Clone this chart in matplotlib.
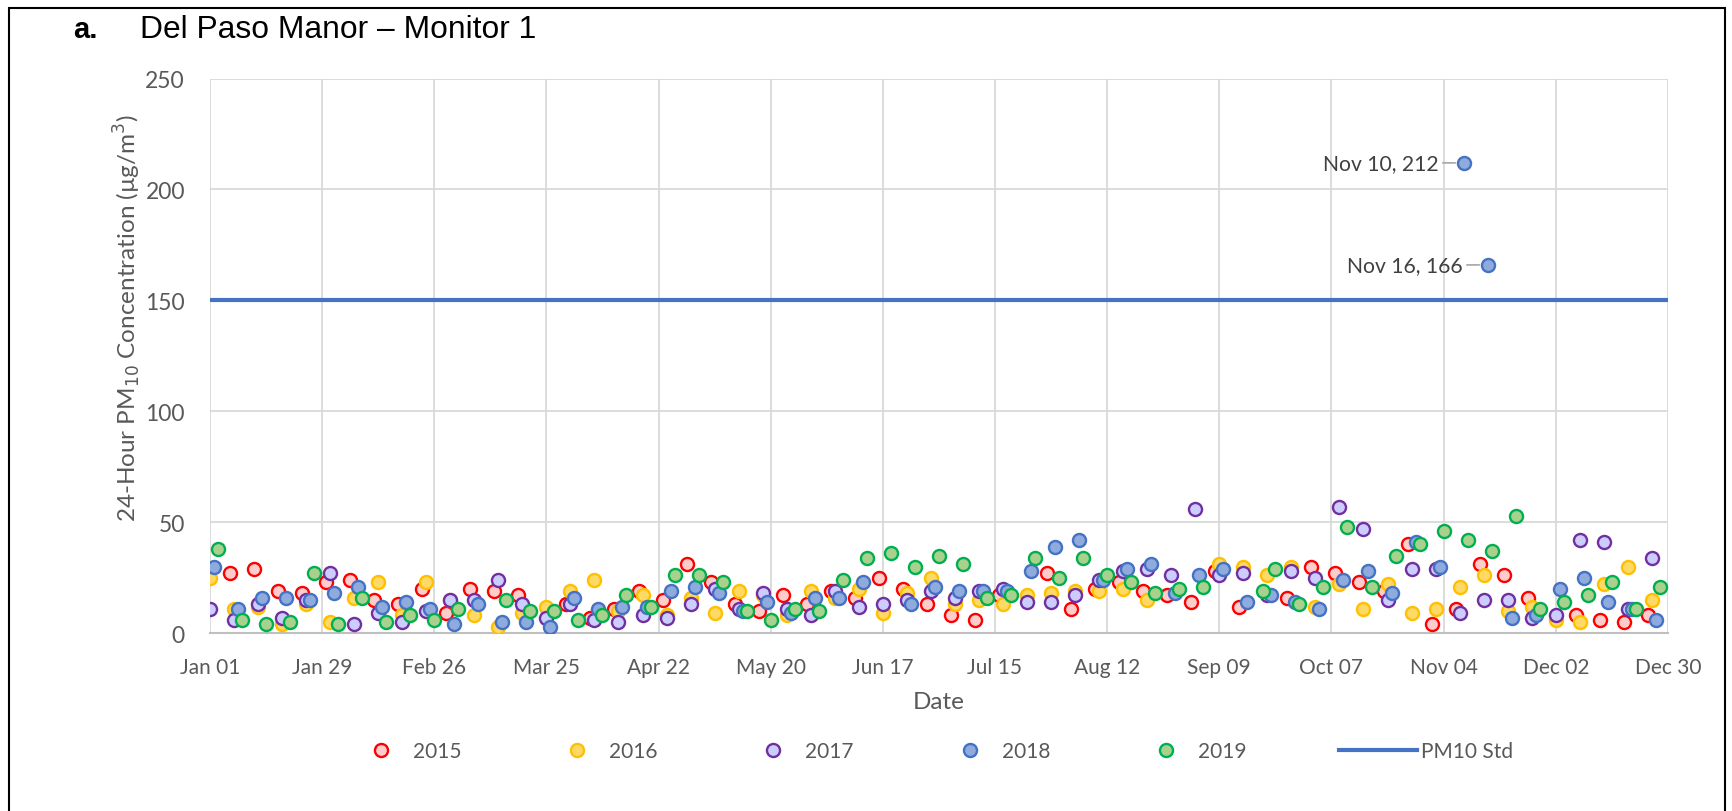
import numpy as np
import pandas as pd
import matplotlib.pyplot as plt
from matplotlib.lines import Line2D
from matplotlib.patches import Rectangle
from matplotlib.legend_handler import HandlerLine2D

plt.rcParams['font.family'] = ['Lato', 'DejaVu Sans']

nan = np.nan

# 1-in-6 day sampling schedule, first sample of each year
years = [2015, 2016, 2017, 2018, 2019]
first_sample = ['2015-01-06', '2016-01-01', '2017-01-01', '2018-01-02', '2019-01-03']

pm_2015 = [27, 29, 19, 18, 23, 24, 15, 13, 20, 9,
           20, 19, 17, nan, 13, 7, 11, 19, 15, 31,
           23, 13, 10, 17, 13, 19, 16, 25, 20, 13,
           8, 6, 17, nan, 27, 11, 20, 23, 19, 17,
           14, 28, 12, nan, 16, 30, 27, 23, 19, 40,
           4, 11, 31, 26, 16, nan, 8, 6, 5, 8]
pm_2016 = [25, 11, 12, 4, 13, 5, 16, 23, 8, 23,
           15, 8, 3, 9, 12, 19, 24, 10, 17, 8,
           16, 9, 19, 17, 8, 19, 16, 20, 9, 18,
           25, 13, 15, 13, 17, 18, 19, 19, 20, 15,
           nan, nan, 31, 30, 26, 30, 12, 22, 11, 22,
           9, 11, 21, 26, 10, 12, 6, 5, 22, 30,
           15]
pm_2017 = [11, 6, 13, 7, 15, 27, 4, 9, 5, 10,
           15, 15, 24, 13, 7, 13, 6, 5, 8, 7,
           13, 20, 11, 18, 11, 8, 19, 12, 13, 15,
           19, 16, 19, 20, 14, 14, 17, 24, 28, 29,
           26, 56, 26, 27, 17, 28, 25, 57, 47, 15,
           29, 29, 9, 15, 15, 7, 8, 42, 41, 11,
           34]
pm_2018 = [30, 11, 16, 16, 15, 18, 21, 12, 14, 11,
           4, 13, 5, 5, 3, 16, 11, 12, 12, 19,
           21, 18, 10, 14, 9, 16, 16, 23, nan, 13,
           21, 19, 19, 19, 28, 39, 42, 24, 29, 31,
           18, 26, 29, 14, 17, 14, 11, 24, 28, 18,
           41, 30, 212, 166, 7, 8, 20, 25, 14, 11,
           6]
pm_2019 = [38, 6, 4, 5, 27, 4, 16, 5, 8, 6,
           11, nan, 15, 10, 10, 6, 8, 17, 12, 26,
           26, 23, 10, 6, 11, 10, 24, 34, 36, 30,
           35, 31, 16, 17, 34, 25, 34, 26, 23, 18,
           20, 21, nan, nan, 29, 13, 21, 48, 21, 35,
           40, 46, 42, 37, 53, 11, 14, 17, 23, 11,
           21]
# make-up sample off the regular schedule
extra_2019_dates = ['2019-09-21']
extra_2019_vals = [19]

pm10_std = 150
labelled = [('2018-11-10', 212), ('2018-11-16', 166)]

edge_colors = ['#FF0000', '#FFC000', '#7030A0', '#4472C4', '#00B050']
face_colors = ['#FFCCCC', '#FFD966', '#CCCCFF', '#8FAADC', '#A9D18E']
series = [pm_2015, pm_2016, pm_2017, pm_2018, pm_2019]

base = pd.Timestamp('2016-01-01')

def to_base(dates):
    # day of year of each sample, laid on one common calendar
    out = []
    for d in dates:
        d = pd.Timestamp(d)
        out.append(base + (d - pd.Timestamp(year=d.year, month=1, day=1)))
    return out


class MarkerNearText(HandlerLine2D):
    # put the legend marker close to its label, like Excel does
    def get_xdata(self, legend, xdescent, ydescent, width, height, fontsize):
        m = width - xdescent - 17
        return [m - 1, m + 1], [m]


fig = plt.figure(figsize=(17.32, 8.12), dpi=100)
ax = fig.add_axes([0.1212, 0.219, 0.963 - 0.1212, 0.902 - 0.219])

ms, mew = 9.4, 1.7
handles = []
for yr, start, vals, ec, fc in zip(years, first_sample, series, edge_colors, face_colors):
    dates = pd.date_range(start, periods=len(vals), freq='6D')
    x = to_base(dates)
    y = list(vals)
    if yr == 2019:
        x += to_base(extra_2019_dates)
        y += extra_2019_vals
    ax.plot(x, y, 'o', ls='none', ms=ms, mew=mew, mec=ec, mfc=fc, zorder=3)
    handles.append(Line2D([], [], marker='o', ls='none', ms=ms, mew=mew, mec=ec, mfc=fc, label=str(yr)))

x0 = pd.Timestamp('2016-01-01')
x1 = pd.Timestamp('2016-12-30')
ax.plot([x0, x1], [pm10_std, pm10_std], color='#4472C4', lw=3, zorder=2)
std_handle = Line2D([], [], color='#4472C4', lw=3, label='PM10 Std')

for d, v in labelled:
    d = pd.Timestamp(d)
    ax.annotate(f"{d:%b %d}, {v}", xy=(to_base([d])[0], v), xytext=(-18, 0),
                textcoords='offset points', ha='right', va='center', fontsize=15.2,
                color='#404040',
                arrowprops=dict(arrowstyle='-', color='#a6a6a6', lw=1.2, shrinkA=1, shrinkB=6))

ticks = pd.date_range(x0, x1, freq='28D')
ax.set_xticks(ticks)
ax.set_xticklabels([t.strftime('%b %d') for t in ticks])
ax.set_xlim(x0, x1)
ax.set_ylim(0, 250)
ax.set_yticks(range(0, 251, 50))
ax.tick_params(axis='both', length=0, labelcolor='#595959')
ax.tick_params(axis='y', pad=18, labelsize=16.5)
ax.tick_params(axis='x', pad=17, labelsize=15)
ax.grid(True, color='#d9d9d9', lw=1.3)
ax.set_axisbelow(True)
for s in ['top', 'right', 'left']:
    ax.spines[s].set_visible(False)
ax.spines['bottom'].set_color('#bfbfbf')
ax.spines['bottom'].set_linewidth(1.5)

ax.set_ylabel('24-Hour PM$_{10}$ Concentration (µg/m$^3$)', fontsize=17.5, color='#595959')
ax.yaxis.set_label_coords(-0.046, 0.57)
ax.set_xlabel('Date', fontsize=17.5, color='#595959')
ax.xaxis.set_label_coords(0.5, -0.105)

fig.text(0.042, 0.963, 'a.', fontsize=21, fontweight='bold', family='Liberation Sans', va='center')
fig.text(0.081, 0.963, 'Del Paso Manor – Monitor 1', fontsize=22.9, family='Liberation Sans', va='center')

hmap = {h: MarkerNearText(numpoints=1) for h in handles}
fig.legend(handles=handles, handler_map=hmap, loc='center',
           bbox_to_anchor=(0.454, 0.074), ncol=5, frameon=False,
           fontsize=15, labelcolor='#595959', handlelength=3.75, handletextpad=0.4,
           columnspacing=2.95)
fig.legend(handles=[std_handle], loc='center left', bbox_to_anchor=(1339 / 1732, 0.074),
           frameon=False, fontsize=15, labelcolor='#595959', handlelength=3.75,
           handletextpad=0.2, borderpad=0, borderaxespad=0)

fig.add_artist(Rectangle((9 / 1732, -0.01), (1725 - 9) / 1732, 1 - 9 / 812 + 0.01,
                         transform=fig.transFigure, fill=False, ec='black', lw=1.5))

fig.savefig('out.png', dpi=100)
